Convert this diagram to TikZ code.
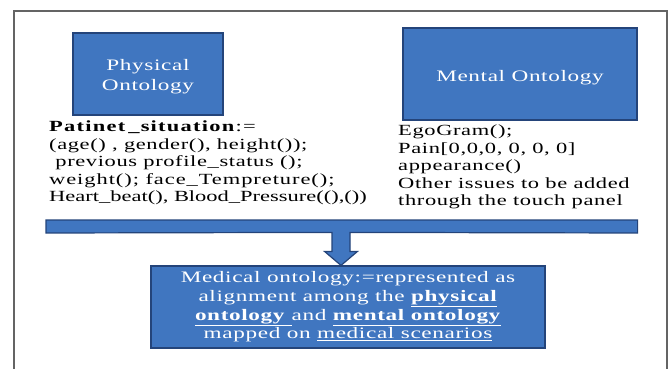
\documentclass[tikz,border=0pt]{standalone}
\usepackage{fontspec}
\setmainfont{Liberation Serif}[FakeStretch=1.45, LetterSpace=4]
\usetikzlibrary{calc}
\definecolor{boxblue}{RGB}{64,118,192}
\definecolor{boxedge}{RGB}{36,68,122}
\definecolor{framegray}{RGB}{100,100,100}

\tikzset{
  bluebox/.style={draw=boxedge, fill=boxblue, line width=1.2pt, text=white,
    align=center, inner sep=0pt, font=\fontsize{16}{20}\selectfont},
  notes/.style={align=left, inner sep=0pt, anchor=north west,
    font=\fontsize{15.5}{17.5}\selectfont},
  flowarrow/.style={draw=boxedge, fill=boxblue, line width=1.2pt, line join=miter}
}

\begin{document}
\begin{tikzpicture}[x=1pt, y=-1pt]
\useasboundingbox (0,0) rectangle (672,369);

% page frame, open at the bottom
\draw[framegray, line width=1.3pt] (14,369) -- (14,11) -- (667,11) -- (667,369);

% the two source ontologies
\node[bluebox, minimum width=150pt, minimum height=82pt] (phys) at (148,74)
  {\rule{0pt}{17pt}Physical\\Ontology};
\node[bluebox, minimum width=234pt, minimum height=92pt] (ment) at (520,74)
  {\rule{0pt}{19pt}Mental Ontology};

% their attributes
\node[notes] (physnotes) at (49,121)
  {{\addfontfeature{LetterSpace=8}\textbf{Patinet\kern3pt\_situation}:=}\\
   (age() , gender(), height());\\
   \ previous profile\_status ();\\
   {\addfontfeature{LetterSpace=6}weight(); face\_Tempreture();}\\
   {\addfontfeature{LetterSpace=0}Heart\_beat(), Blood\_Pressure((),())}};
\node[notes] (mentnotes) at (398,125)
  {EgoGram();\\
   Pain[0,0,0, 0, 0, 0]\\
   appearance()\\
   Other issues to be added\\
   through the touch panel};

% the combined ontology
\node[bluebox, minimum width=394pt, minimum height=82pt,
      font=\fontsize{16}{18.7}\selectfont] (med) at (348,307)
  {Medical ontology:=represented as\\
   alignment among the \underline{\textbf{physical}}\\
   \underline{\textbf{ontology }}and \underline{\textbf{mental ontology}}\\
   mapped on \underline{medical scenarios}};

% collecting bar with its arrow down into the combined ontology
\coordinate (tip) at ($(med.north)+(-7,0)$);
\draw[flowarrow]
  (46,220) -- (ment.east |- 0,220) -- (ment.east |- 0,233)
  -- ($(tip)+(9,-33)$) -- ($(tip)+(9,-14)$) -- ($(tip)+(16.5,-14)$)
  -- (tip)
  -- ($(tip)+(-16.5,-14)$) -- ($(tip)+(-9,-14)$) -- ($(tip)+(-9,-33)$)
  -- (46,233) -- cycle;
\end{tikzpicture}
\end{document}
